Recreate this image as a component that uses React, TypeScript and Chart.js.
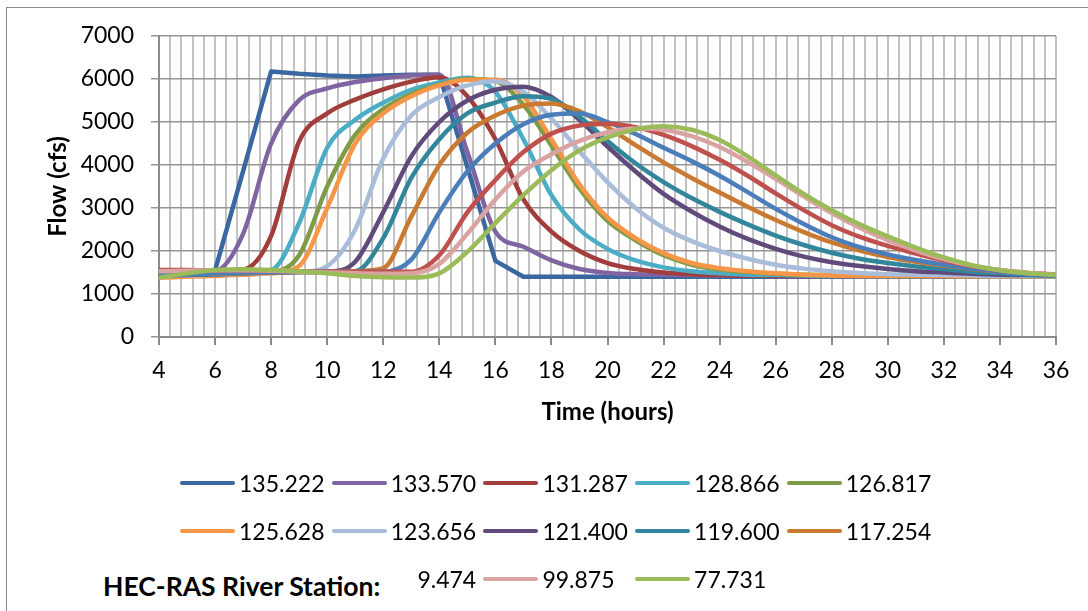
import React, { useEffect, useRef } from "react";
import { Chart, registerables } from "chart.js";

Chart.register(...registerables);

// ---- data (hourly) ----
const timeHours = [4,5,6,7,8,9,10,11,12,13,14,15,16,17,18,19,20,21,22,23,24,25,26,27,28,29,30,31,32,33,34,35,36];

const flow135_222 = [1450,1500,1550,3860,6175,6120,6080,6060,6080,6100,6100,3950,1770,1400,1400,1400,1400,1400,1400,1400,1400,1400,1400,1400,1400,1400,1400,1400,1400,1400,1400,1400,1400];
const flow133_570 = [1480,1500,1530,2400,4500,5510,5780,5930,6020,6080,6100,4300,2450,2100,1780,1580,1490,1460,1450,1440,1430,1430,1420,1420,1420,1420,1420,1420,1420,1410,1410,1410,1410];
const flow131_287 = [1560,1560,1550,1570,2350,4550,5200,5520,5760,5940,6040,5600,4600,3200,2450,2000,1720,1580,1500,1460,1440,1430,1420,1420,1420,1420,1420,1420,1420,1410,1410,1410,1410];
const flow128_866 = [1480,1490,1500,1520,1560,2650,4400,5050,5450,5750,5920,6030,5700,4600,3300,2500,2050,1780,1620,1530,1480,1450,1440,1430,1420,1420,1420,1420,1420,1410,1410,1410,1410];
const flow126_817 = [1450,1460,1480,1500,1520,1900,3500,4700,5300,5650,5870,6000,5950,5400,4450,3450,2700,2250,1900,1680,1570,1510,1470,1450,1440,1430,1420,1420,1420,1410,1410,1410,1410];
const flow125_628 = [1380,1400,1420,1450,1480,1650,3000,4500,5200,5600,5850,5980,5980,5600,4600,3550,2780,2300,1950,1720,1600,1530,1480,1450,1430,1420,1420,1420,1420,1410,1410,1410,1410];
const flow123_656 = [1420,1430,1450,1470,1490,1510,1650,2500,4150,5150,5580,5850,5950,5700,5080,4320,3600,3000,2540,2230,2000,1820,1680,1590,1530,1490,1460,1450,1440,1430,1420,1420,1410];
const flow121_400 = [1430,1440,1460,1480,1500,1510,1520,1750,2900,4200,5000,5500,5750,5820,5580,5050,4430,3850,3330,2920,2570,2280,2050,1870,1740,1650,1580,1530,1500,1470,1450,1440,1430];
const flow119_600 = [1440,1450,1460,1480,1500,1510,1520,1530,2300,3700,4600,5200,5450,5600,5540,5120,4560,4040,3600,3230,2910,2620,2360,2140,1960,1820,1720,1640,1580,1520,1480,1450,1430];
const flow117_254 = [1450,1460,1470,1490,1500,1510,1520,1530,1600,2800,4000,4750,5150,5380,5430,5250,4880,4460,4060,3700,3360,3030,2720,2440,2200,2010,1860,1750,1660,1580,1520,1480,1450];
const flow109_474 = [1450,1460,1480,1500,1510,1520,1520,1520,1520,1800,2900,3850,4500,4950,5170,5200,5000,4720,4400,4090,3750,3370,2980,2630,2320,2090,1920,1790,1680,1590,1520,1470,1450];
const flowUnlisted = [1550,1550,1550,1550,1540,1530,1520,1520,1520,1520,1900,2900,3650,4300,4730,4920,4960,4880,4700,4440,4120,3750,3340,2950,2600,2330,2120,1940,1780,1650,1550,1490,1450];
const flow99_875 = [1530,1540,1550,1550,1540,1520,1500,1480,1470,1480,1700,2400,3200,3850,4250,4560,4760,4850,4820,4670,4420,4070,3680,3270,2880,2540,2250,2010,1810,1660,1560,1490,1450];
const flow77_731 = [1380,1480,1560,1575,1560,1530,1480,1420,1390,1385,1480,1980,2650,3300,3880,4340,4640,4830,4900,4820,4580,4200,3760,3330,2950,2620,2340,2080,1850,1670,1550,1480,1440];

const seriesLabels = ["135.222","133.570","131.287","128.866","126.817","125.628","123.656","121.400","119.600","117.254","109.474","","99.875","77.731"];
const seriesValues = [flow135_222,flow133_570,flow131_287,flow128_866,flow126_817,flow125_628,flow123_656,flow121_400,flow119_600,flow117_254,flow109_474,flowUnlisted,flow99_875,flow77_731];
const seriesColors = ["#3b67a0","#8064a2","#a13d3b","#4bacc6","#7f9b48","#f79646","#a9bcd9","#604a7b","#31869c","#c97a30","#4a7ebb","#c0504d","#d9a3a2","#9bbb59"];
const legendOrder = [0,1,2,3,4,5,6,7,8,9,10,12,13];

const xMajorTicks = [4,6,8,10,12,14,16,18,20,22,24,26,28,30,32,34,36];
const xMinorStep = 0.4;
const yTicks = [0,1000,2000,3000,4000,5000,6000,7000];

const FONT = "Lato, 'Open Sans', sans-serif";

export default function App() {
  const ref = useRef<HTMLCanvasElement | null>(null);

  useEffect(() => {
    if (!ref.current) return;
    const datasets = seriesValues.map((vals, i) => ({
      label: seriesLabels[i],
      data: vals.map((v, j) => ({ x: timeHours[j], y: v })),
      borderColor: seriesColors[i],
      backgroundColor: seriesColors[i],
      borderWidth: 4.5,
      pointRadius: 0,
      pointHoverRadius: 0,
      tension: 0,
      cubicInterpolationMode: i === 0 ? "default" : "monotone",
      borderCapStyle: "round",
      borderJoinStyle: "round",
      order: seriesValues.length - i,
    }));

    const isMajor = (v: number) => xMajorTicks.some((m) => Math.abs(m - v) < 1e-6);

    const chart = new Chart(ref.current, {
      type: "line",
      data: { datasets } as any,
      options: {
        responsive: false,
        animation: false,
        layout: { padding: { top: 36, right: 32, bottom: 174, left: 0 } },
        plugins: { legend: { display: false }, tooltip: { enabled: false } },
        scales: {
          x: {
            type: "linear",
            min: xMajorTicks[0],
            max: xMajorTicks[xMajorTicks.length - 1],
            afterBuildTicks: (scale: any) => {
              const ticks: any[] = [];
              const n = Math.round((scale.max - scale.min) / xMinorStep);
              for (let k = 0; k <= n; k++) {
                ticks.push({ value: Math.round((scale.min + k * xMinorStep) * 1000) / 1000 });
              }
              scale.ticks = ticks;
            },
            afterFit: (scale: any) => { scale.height = 100; },
            ticks: {
              autoSkip: false,
              maxRotation: 0,
              minRotation: 0,
              padding: 12,
              color: "#000",
              font: { family: FONT, size: 23 },
              callback: (v: any) => (isMajor(Number(v)) ? String(Math.round(Number(v))) : ""),
            },
            grid: {
              color: "#c3c3c3",
              lineWidth: 2,
              tickLength: 8,
              tickWidth: 2,
              tickColor: (ctx: any) => (ctx.tick && isMajor(ctx.tick.value) ? "#8a8a8a" : "rgba(0,0,0,0)"),
            },
            border: { color: "#8a8a8a", width: 2 },
            title: {
              display: true,
              text: "Time (hours)",
              color: "#000",
              font: { family: FONT, size: 24, weight: "bold" },
              padding: { top: 0, bottom: 10.6 },
            },
          },
          y: {
            type: "linear",
            min: yTicks[0],
            max: yTicks[yTicks.length - 1],
            afterBuildTicks: (scale: any) => { scale.ticks = yTicks.map((v) => ({ value: v })); },
            afterFit: (scale: any) => { scale.width = 159; },
            ticks: {
              padding: 17,
              color: "#000",
              font: { family: FONT, size: 23 },
              callback: (v: any) => String(v),
            },
            grid: {
              color: "#959595",
              lineWidth: 1.5,
              tickLength: 8,
              tickColor: "#959595",
            },
            border: { color: "#8a8a8a", width: 2 },
            title: {
              display: true,
              text: "Flow (cfs)",
              color: "#000",
              font: { family: FONT, size: 24, weight: "bold" },
              padding: { top: 43.6, bottom: 0 },
            },
          },
        },
      } as any,
    });
    return () => chart.destroy();
  }, []);

  const itemW = 151.7;

  return (
    <div style={{ position: "fixed", left: 0, top: 0, width: 1088, height: 611, background: "#fff", overflow: "hidden" }}>
      <div style={{ position: "absolute", left: 6, top: 7, width: 1100, height: 620, borderLeft: "1.5px solid #8a8a8a", borderTop: "1.5px solid #8a8a8a" }} />
      <canvas ref={ref} width={1088} height={611} style={{ position: "absolute", left: 0, top: 0, width: 1088, height: 611 }} />
      <div style={{ position: "absolute", left: 180, top: 459, width: itemW * 5, display: "flex", flexWrap: "wrap", justifyContent: "center" }}>
        {legendOrder.map((i) => (
          <div key={i} style={{ width: itemW, height: 48, display: "flex", alignItems: "center", fontFamily: FONT, fontSize: 23, color: "#000", whiteSpace: "nowrap" }}>
            <span style={{ display: "inline-block", width: 55, height: 4.5, borderRadius: 2.25, background: seriesColors[i], marginRight: 4 }} />
            <span>{seriesLabels[i]}</span>
          </div>
        ))}
      </div>
      <div style={{ position: "absolute", left: 95, top: 560, width: 322, height: 51, background: "#fff", display: "flex", alignItems: "center", paddingLeft: 8, boxSizing: "border-box", fontFamily: FONT, fontWeight: "bold", fontSize: 26.5, color: "#000", whiteSpace: "nowrap" }}>
        HEC-RAS River Station:
      </div>
    </div>
  );
}
